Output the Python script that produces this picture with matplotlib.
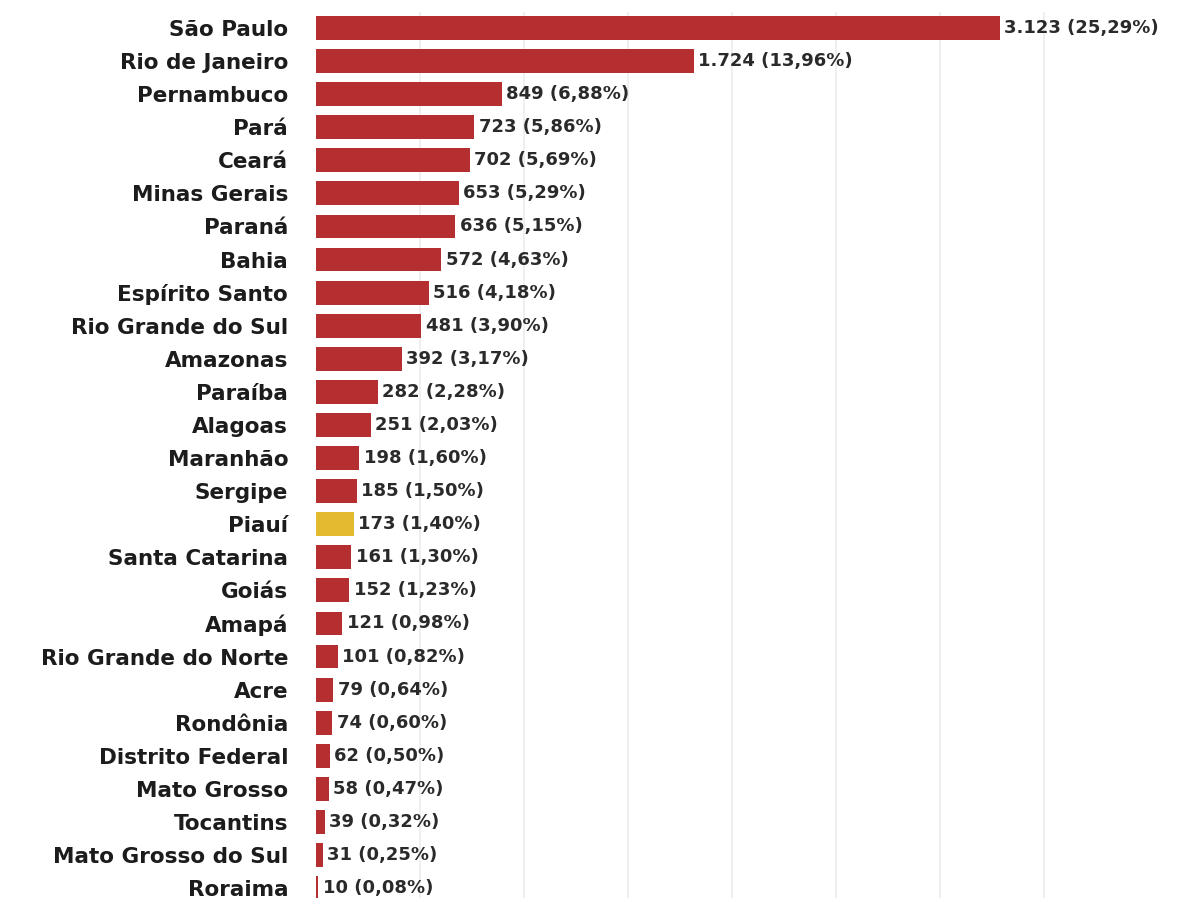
import matplotlib
matplotlib.use("Agg")
import matplotlib.pyplot as plt

states = ["São Paulo", "Rio de Janeiro", "Pernambuco", "Pará", "Ceará", "Minas Gerais",
          "Paraná", "Bahia", "Espírito Santo", "Rio Grande do Sul", "Amazonas", "Paraíba",
          "Alagoas", "Maranhão", "Sergipe", "Piauí", "Santa Catarina", "Goiás", "Amapá",
          "Rio Grande do Norte", "Acre", "Rondônia", "Distrito Federal", "Mato Grosso",
          "Tocantins", "Mato Grosso do Sul", "Roraima"]
counts = [3123, 1724, 849, 723, 702, 653, 636, 572, 516, 481, 392, 282, 251, 198, 185,
          173, 161, 152, 121, 101, 79, 74, 62, 58, 39, 31, 10]
shares = ["25,29", "13,96", "6,88", "5,86", "5,69", "5,29", "5,15", "4,63", "4,18", "3,90",
          "3,17", "2,28", "2,03", "1,60", "1,50", "1,40", "1,30", "1,23", "0,98", "0,82",
          "0,64", "0,60", "0,50", "0,47", "0,32", "0,25", "0,08"]
highlight = "Piauí"
grid_ticks = [475, 950, 1425, 1900, 2375, 2850, 3325]

RED = "#B52F30"
GOLD = "#E2BB2E"

W, H = 1192, 898
fig = plt.figure(figsize=(W / 100, H / 100), dpi=100)
fig.patch.set_facecolor("white")
ax = fig.add_axes([316 / W, 0, 876 / W, (H - 12) / H])

pos = list(range(len(states)))
colors = [GOLD if s == highlight else RED for s in states]
ax.barh(pos, counts, height=0.72, color=colors, zorder=2)

for y, v, p in zip(pos, counts, shares):
    txt = f"{v:,}".replace(",", ".") + f" ({p}%)"
    ax.text(v + 20, y, txt, va="center", ha="left", fontsize=13,
            fontfamily="DejaVu Sans", fontweight="bold", color="#2a2a2a", zorder=3)

ax.set_xlim(0, 4000)
ax.set_ylim((H - 28) / 33.08, -16 / 33.08)
ax.set_xticks(grid_ticks)
ax.xaxis.grid(True, color="#ECECEC", linewidth=1.2, zorder=0)
ax.tick_params(axis="x", length=0, labelbottom=False)
ax.set_yticks(pos)
ax.set_yticklabels(states, fontsize=15.5, fontfamily="DejaVu Sans",
                   fontweight="bold", color="#1c1c1c")
ax.tick_params(axis="y", length=0, pad=20)
for s in ax.spines.values():
    s.set_visible(False)

fig.savefig("out.png", dpi=100, facecolor="white")
